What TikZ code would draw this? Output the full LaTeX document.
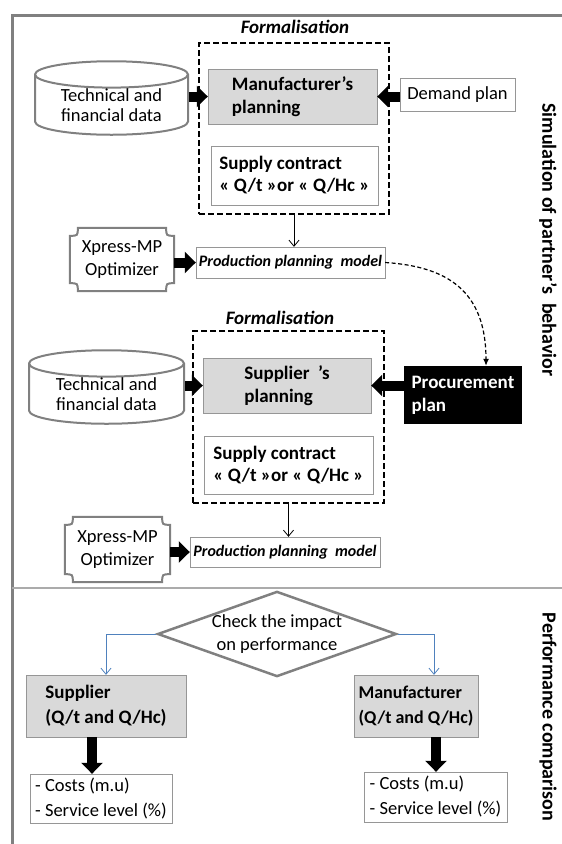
\documentclass[tikz,border=0pt]{standalone}
\usepackage{fontspec}
\setmainfont{Carlito}
\usetikzlibrary{arrows.meta,shapes.geometric}
\definecolor{boxgray}{RGB}{217,217,217}
\definecolor{framegray}{RGB}{128,128,128}
\definecolor{linegray}{RGB}{150,150,150}
\definecolor{linkblue}{RGB}{79,129,189}

% border of the optimizer plaque, drawn round a named node
\newcommand{\plaqueshape}[1]{%
  \draw[framegray, line width=2pt] ([xshift=8pt]#1.north west) -- ([xshift=-8pt]#1.north east)
    .. controls ([xshift=-8pt,yshift=-8pt]#1.north east) .. ([yshift=-8pt]#1.north east)
    -- ([yshift=8pt]#1.south east)
    .. controls ([xshift=-8pt,yshift=8pt]#1.south east) .. ([xshift=-8pt]#1.south east)
    -- ([xshift=8pt]#1.south west)
    .. controls ([xshift=8pt,yshift=8pt]#1.south west) .. ([yshift=8pt]#1.south west)
    -- ([yshift=-8pt]#1.north west)
    .. controls ([xshift=8pt,yshift=-8pt]#1.north west) .. ([xshift=8pt]#1.north west) -- cycle;}

\begin{document}
\begin{tikzpicture}[x=1pt, y=-1pt,
    every node/.style={font=\fontsize{18.5}{21}\selectfont, inner sep=0pt},
    planbox/.style={draw=linegray, fill=boxgray, align=left, font=\bfseries\fontsize{19}{23}\selectfont},
    ctrbox/.style={draw=linegray, fill=white, align=left, font=\bfseries\fontsize{19}{22}\selectfont},
    txtbox/.style={draw=linegray, fill=white, align=left, font=\fontsize{18.5}{25}\selectfont},
    modelbox/.style={draw=linegray, fill=white, font=\bfseries\itshape\fontsize{16}{18}\selectfont},
    formbox/.style={draw, line width=2.2pt, dash pattern=on 6pt off 3pt},
    datacyl/.style={cylinder, shape border rotate=90, aspect=0.26, draw=framegray, line width=2pt, fill=white, align=center, anchor=shape center, font=\fontsize{18.5}{20}\selectfont},
    checkshape/.style={diamond, aspect=2.8, draw=framegray, line width=2.5pt, align=center, font=\fontsize{18.5}{23}\selectfont},
    bigarrow/.style={line width=10pt, -{Triangle[length=11pt, width=21pt]}},
    thinarrow/.style={line width=0.8pt, -{Straight Barb[length=6pt, width=10pt]}},
    formtitle/.style={font=\bfseries\itshape\fontsize{19}{20}\selectfont},
    sidelabel/.style={font=\bfseries\fontsize{20}{20}\selectfont, rotate=-90}
  ]
  \useasboundingbox (0,0) rectangle (562,844);

  % frame
  \draw[framegray, line width=3pt] (562,15) -- (12,15) -- (12,844);
  \draw[linegray!80, line width=1.5pt] (12,588) -- (562,588);

  % manufacturer side
  \node[formtitle] (form1) at (295,27) {Formalisation};
  \node[formbox, minimum width=190pt, minimum height=171pt] (fml1) at (294,128.5) {};
  \node[planbox, minimum width=169pt, minimum height=55pt] (manuf) at (292.5,96.5) {Manufacturer’s\\planning};
  \node[ctrbox, minimum width=167pt, minimum height=59pt] (ctr1) at (294.5,175.5) {Supply contract\\« Q/t »or « Q/Hc »};
  \node[datacyl, minimum width=153pt, minimum height=58pt] (cyl1) at (111.5,98) {Technical and\\financial data};
  \node[draw=linegray, minimum width=115pt, minimum height=33pt] (demand) at (457.5,94.5) {Demand plan};
  \node[modelbox, minimum width=189pt, minimum height=31pt] (ppm1) at (290.5,262.5) {Production planning\ \ model};
  \node[align=center, font=\fontsize{18.5}{23}\selectfont, minimum width=104pt, minimum height=63pt] (xp1) at (122,259.5) {Xpress-MP\\Optimizer};
  \plaqueshape{xp1}

  \draw[bigarrow] (cyl1.east |- manuf.west) -- (manuf.west);
  \draw[bigarrow] (demand.west |- manuf.east) -- (manuf.east);
  \draw[thinarrow] (fml1.south) -- (fml1.south |- ppm1.north);
  \draw[bigarrow] (xp1.east |- ppm1.west) -- (ppm1.west);

  % supplier side
  \node[formtitle] (form2) at (280,318) {Formalisation};
  \node[formbox, minimum width=191pt, minimum height=172pt] (fml2) at (288.5,417) {};
  \node[planbox, minimum width=168pt, minimum height=55pt] (supl) at (287,385.5) {Supplier\ \ ’s\\planning};
  \node[ctrbox, minimum width=169pt, minimum height=58pt] (ctr2) at (288.5,465) {Supply contract\\« Q/t »or « Q/Hc »};
  \node[datacyl, minimum width=155pt, minimum height=55pt] (cyl2) at (106.5,387) {Technical and\\financial data};
  \node[fill=black, text=white, align=left, font=\bfseries\fontsize{19}{23}\selectfont, minimum width=118pt, minimum height=58pt] (proc) at (463,395) {Procurement\\plan};
  \node[modelbox, minimum width=190pt, minimum height=30pt] (ppm2) at (285,552) {Production planning\ \ model};
  \node[align=center, font=\fontsize{18.5}{23}\selectfont, minimum width=105pt, minimum height=65pt] (xp2) at (117.5,549.5) {Xpress-MP\\Optimizer};
  \plaqueshape{xp2}

  \draw[line width=1.2pt, dash pattern=on 4pt off 2.5pt, -{Latex[length=7pt, width=6pt]}]
    (ppm1.east) .. controls +(62,4) and +(0,-75) .. ([xshift=23pt]proc.north);
  \draw[bigarrow] (cyl2.east |- supl.west) -- (supl.west);
  \draw[bigarrow] (proc.west |- supl.east) -- (supl.east);
  \draw[thinarrow] (fml2.south) -- (fml2.south |- ppm2.north);
  \draw[bigarrow] (xp2.east |- ppm2.west) -- (ppm2.west);

  % comparison
  \node[checkshape, minimum width=228pt, minimum height=82pt] (chk) at (277,634) {Check the impact\\on performance};
  \node[planbox, minimum width=160pt, minimum height=62pt, font=\bfseries\fontsize{19}{25}\selectfont] (supres) at (106,706) {Supplier\\(Q/t and Q/Hc)};
  \node[planbox, minimum width=124pt, minimum height=62pt, font=\bfseries\fontsize{18}{25}\selectfont] (manres) at (416,706) {Manufacturer\\(Q/t and Q/Hc)};
  \node[txtbox, minimum width=142pt, minimum height=49pt] (res1) at (101,798.5) {- Costs (m.u)\\- Service level (\%)};
  \node[txtbox, minimum width=143pt, minimum height=50pt] (res2) at (435.5,797) {- Costs (m.u)\\- Service level (\%)};

  \draw[linkblue, thinarrow] (chk.west) -| (supres.north);
  \draw[linkblue, thinarrow] (chk.east) -| ([xshift=18pt]manres.north);
  \draw[bigarrow] ([xshift=-14pt]supres.south) -- ([xshift=-14pt]supres.south |- res1.north);
  \draw[bigarrow] ([xshift=20pt]manres.south) -- ([xshift=20pt]manres.south |- res2.north);

  % side labels
  \node[sidelabel] (simlabel) at (548,240) {Simulation of partner’s\ \ behavior};
  \node[sidelabel] (perflabel) at (548,717) {Performance comparison};
\end{tikzpicture}
\end{document}
